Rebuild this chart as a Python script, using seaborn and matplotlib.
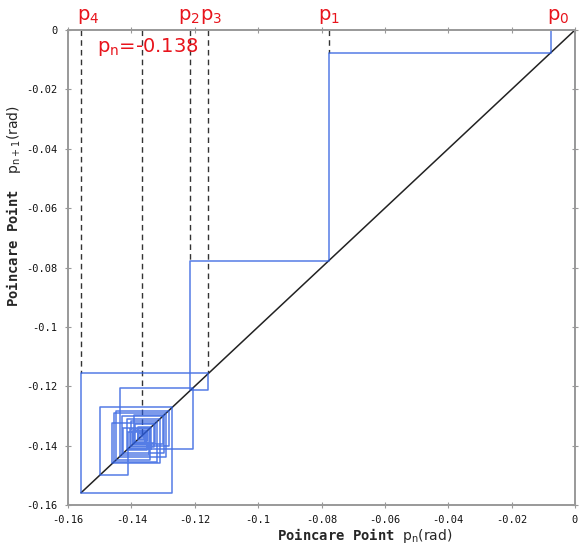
import numpy as np
import pandas as pd
import matplotlib
matplotlib.use("Agg")
import matplotlib.pyplot as plt
import seaborn as sns

# Poincare return sequence (rad): first value is the starting height, then p0, p1, ...
sequence = [-0.128, 0.0, -0.0076, -0.0777, -0.1214, -0.1157, -0.1559, -0.1271,
            -0.1500, -0.1410, -0.1207, -0.1437, -0.1290, -0.1455, -0.1318,
            -0.1400, -0.1282, -0.1448, -0.1340, -0.1425, -0.1298, -0.1392,
            -0.1325, -0.1460, -0.1310, -0.1415, -0.1352, -0.1395, -0.1300,
            -0.1430, -0.1345, -0.1405, -0.1328, -0.1388, -0.1355, -0.1412,
            -0.1338, -0.1380, -0.1350, -0.1395, -0.1358, -0.1378, -0.1360,
            -0.1372, -0.1362, -0.1368, -0.1364, -0.1366]
fixed_point = -0.1365
marker_names = ["p$_0$", "p$_1$", "p$_2$", "p$_3$", "p$_4$"]
marker_values = [-0.0076, -0.0777, -0.1214, -0.1157, -0.1559]
dashed_ends = [-0.0076, -0.0777, -0.1157, -0.1157]   # for p1, p2, p3, p4
tick_values = [-0.16, -0.14, -0.12, -0.10, -0.08, -0.06, -0.04, -0.02, 0.0]
tick_labels = ["-0.16", "-0.14", "-0.12", "-0.1", "-0.08", "-0.06", "-0.04", "-0.02", "0"]

sns.set_style("white")
plt.rcParams["font.family"] = ["DejaVu Sans"]

# cobweb path
px, py = [], []
for k in range(1, len(sequence)):
    px += [sequence[k], sequence[k]]
    py += [sequence[k - 1], sequence[k]]
path = pd.DataFrame({"x": px, "y": py})

diag = pd.DataFrame({"x": [min(sequence), 0.0], "y": [min(sequence), 0.0]})

fig = plt.figure(figsize=(5.81, 5.46), dpi=100)
W, H = 581, 546
ax = fig.add_axes([68 / W, 1 - 505 / H, (575 - 68) / W, (505 - 30) / H])

sns.lineplot(data=diag, x="x", y="y", sort=False, estimator=None, color="#222222",
             lw=1.1, ax=ax)
sns.lineplot(data=path, x="x", y="y", sort=False, estimator=None, color="#2a5ce0",
             lw=1.1, alpha=0.8, ax=ax)

# dashed guide lines
for v, e in zip(marker_values[1:], dashed_ends):
    ax.plot([v, v], [0, e], ls=(0, (4, 3)), color="#333333", lw=1.0, zorder=1)
ax.plot([fixed_point, fixed_point], [0, fixed_point], ls=(0, (4, 3)),
        color="#333333", lw=1.0, zorder=1)

ax.set_xlim(-0.16, 0)
ax.set_ylim(-0.16, 0)
ax.set_xticks(tick_values)
ax.set_xticklabels(tick_labels)
ax.set_yticks(tick_values)
ax.set_yticklabels(tick_labels)
ax.tick_params(axis="both", which="both", direction="inout", length=5, width=0.8,
               color="#999999", labelsize=7.5, pad=5, top=True, right=True,
               bottom=True, left=True, labelcolor="#111111")
for lab in ax.get_xticklabels() + ax.get_yticklabels():
    lab.set_fontfamily("DejaVu Sans Mono")
for s in ax.spines.values():
    s.set_color("#999999")
    s.set_linewidth(1.4)

ax.set_xlabel(r"Poincare Point $\mathsf{p_n(rad)}$", fontfamily="DejaVu Sans Mono",
              fontweight="bold", fontsize=10)
ax.set_ylabel(r"Poincare Point  $\mathsf{p_{n+1}(rad)}$", fontfamily="DejaVu Sans Mono",
              fontweight="bold", fontsize=10)
ax.xaxis.set_label_coords(0.585, -0.045)
ax.yaxis.set_label_coords(-0.088, 0.63)

red = "#e8141c"
offsets = [5, 0, -1, 2, 5]
for name, v, dx in zip(marker_names, marker_values, offsets):
    ax.annotate(name, xy=(v, 1.0), xycoords=("data", "axes fraction"),
                xytext=(dx, 3), textcoords="offset points", ha="center",
                va="bottom", color=red, fontsize=14, annotation_clip=False)
ax.text(-0.1508, -0.0057, r"p$_{\mathsf{n}}$=-0.138", color=red, fontsize=14,
        ha="left", va="center")

fig.savefig("out.png", dpi=100, facecolor="white")
